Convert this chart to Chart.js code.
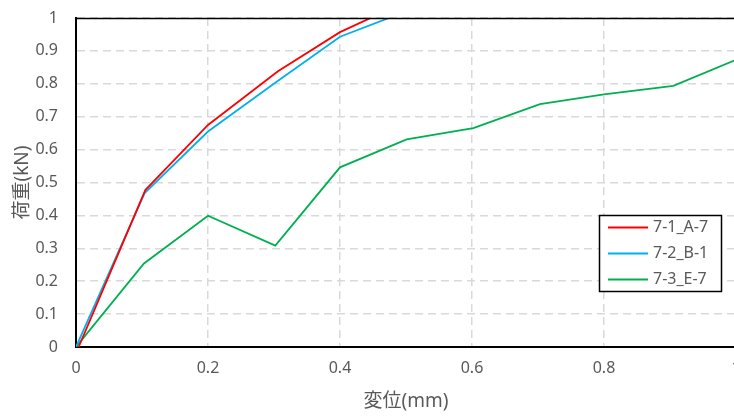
<!DOCTYPE html>
<html>
<head>
<meta charset="utf-8">
<script src="https://cdn.jsdelivr.net/npm/chart.js@4/dist/chart.umd.min.js"></script>
<style>
  html, body { margin: 0; padding: 0; overflow: hidden; background: #fff; }
  #wrap { width: 740px; height: 416px; }
</style>
</head>
<body>
<div id="wrap"><canvas id="c" width="740" height="416"></canvas></div>
<script>
// Load–displacement curves for three specimens
const seriesNames = ['7-1_A-7', '7-2_B-1', '7-3_E-7'];
const seriesColors = ['#FF0000', '#00B0F0', '#00B050'];

const dispA = [0.004, 0.105, 0.2, 0.306, 0.4, 0.5];
const loadA = [0, 0.477, 0.675, 0.838, 0.957, 1.05];

const dispB = [0, 0.104, 0.2, 0.304, 0.4, 0.5];
const loadB = [0, 0.468, 0.655, 0.806, 0.943, 1.02];

const dispE = [0, 0.103, 0.2, 0.302, 0.4, 0.501, 0.602, 0.703, 0.8, 0.905, 1.0];
const loadE = [0, 0.254, 0.399, 0.308, 0.546, 0.631, 0.665, 0.738, 0.768, 0.794, 0.873];

const xTicks = [0, 0.2, 0.4, 0.6, 0.8, 1];
const yTicks = [0, 0.1, 0.2, 0.3, 0.4, 0.5, 0.6, 0.7, 0.8, 0.9, 1];

const xTitle = '変位(mm)';
const yTitle = '荷重(kN)';

const FONT = "'Noto Sans', 'Noto Sans CJK JP', sans-serif";
const TEXT = '#595959';

function pts(xs, ys) { return xs.map((x, i) => ({ x: x, y: ys[i] })); }

const seriesData = [pts(dispA, loadA), pts(dispB, loadB), pts(dispE, loadE)];

// Frame line along the top of the plot area
const topBorder = {
  id: 'topBorder',
  afterDraw(chart) {
    const { ctx, chartArea } = chart;
    ctx.save();
    ctx.strokeStyle = '#000';
    ctx.lineWidth = 1.5;
    ctx.beginPath();
    ctx.moveTo(chartArea.left - 1, chartArea.top + 0.5);
    ctx.lineTo(chartArea.right, chartArea.top + 0.5);
    ctx.stroke();
    ctx.restore();
  }
};

// Boxed legend inside the plot, lower right
const boxLegend = {
  id: 'boxLegend',
  afterDraw(chart) {
    const { ctx } = chart;
    const x0 = 599, y0 = 215, w = 122, h = 76;
    ctx.save();
    ctx.fillStyle = '#fff';
    ctx.fillRect(x0, y0, w, h);
    ctx.strokeStyle = '#000';
    ctx.lineWidth = 1.5;
    ctx.strokeRect(x0 + 0.5, y0 + 0.5, w, h);
    ctx.font = '16px ' + FONT;
    ctx.textBaseline = 'middle';
    ctx.textAlign = 'left';
    chart.data.datasets.forEach((ds, i) => {
      const yy = y0 + 12.5 + i * 26;
      ctx.strokeStyle = ds.borderColor;
      ctx.lineWidth = 2;
      ctx.beginPath();
      ctx.moveTo(x0 + 9, yy);
      ctx.lineTo(x0 + 49, yy);
      ctx.stroke();
      ctx.fillStyle = TEXT;
      ctx.fillText(ds.label, x0 + 54, yy);
    });
    ctx.restore();
  }
};

new Chart(document.getElementById('c'), {
  type: 'scatter',
  data: {
    datasets: seriesNames.map((name, i) => ({
      label: name,
      data: seriesData[i],
      showLine: true,
      borderColor: seriesColors[i],
      backgroundColor: seriesColors[i],
      borderWidth: 1.8,
      pointRadius: 0,
      pointHoverRadius: 0,
      tension: 0
    }))
  },
  options: {
    responsive: false,
    animation: false,
    events: [],
    layout: { padding: { top: 18, right: 4, left: 0, bottom: 0 } },
    plugins: { legend: { display: false }, tooltip: { enabled: false } },
    scales: {
      x: {
        type: 'linear',
        min: 0, max: 1,
        afterBuildTicks(scale) { scale.ticks = xTicks.map(v => ({ value: v })); },
        afterFit(scale) {
          scale.height = 69;
          scale.paddingLeft = 0; scale.paddingRight = 0;
        },
        ticks: {
          color: TEXT,
          font: { family: FONT, size: 16 },
          padding: 12,
          maxRotation: 0,
          callback: v => String(v)
        },
        grid: { color: '#d9d9d9', lineWidth: 1.5, drawTicks: false },
        border: { color: '#000', width: 2, dash: [8, 5] },
        title: {
          display: true, text: xTitle, color: TEXT,
          font: { family: FONT, size: 19 },
          padding: { top: 0, bottom: 3 }
        }
      },
      y: {
        type: 'linear',
        min: 0, max: 1,
        afterBuildTicks(scale) { scale.ticks = yTicks.map(v => ({ value: v })); },
        afterFit(scale) {
          scale.width = 76;
          scale.paddingTop = 0; scale.paddingBottom = 0;
        },
        ticks: {
          color: TEXT,
          font: { family: FONT, size: 16 },
          padding: 18,
          callback: v => String(v)
        },
        grid: { color: '#d9d9d9', lineWidth: 1.5, drawTicks: false },
        border: { color: '#000', width: 2, dash: [8, 5] },
        title: {
          display: true, text: yTitle, color: TEXT,
          font: { family: FONT, size: 19 },
          padding: { top: 11, bottom: 0 }
        }
      }
    }
  },
  plugins: [topBorder, boxLegend]
});
</script>
</body>
</html>
